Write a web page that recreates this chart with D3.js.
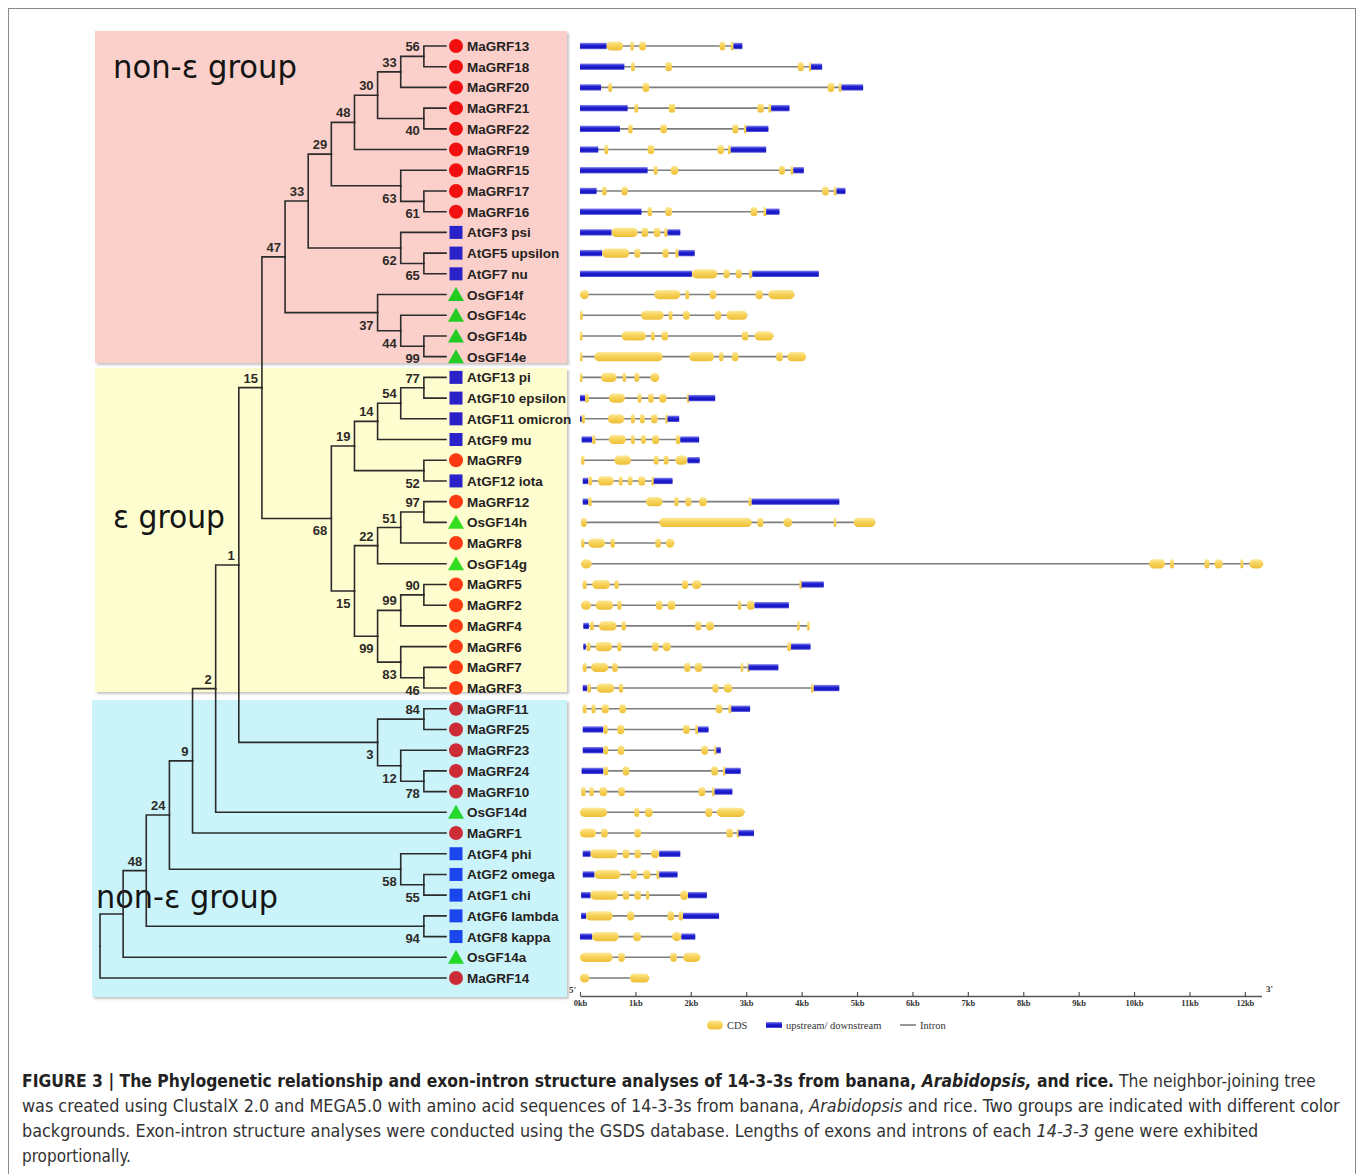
<!DOCTYPE html>
<html>
<head>
<meta charset="utf-8">
<script src="https://cdnjs.cloudflare.com/ajax/libs/d3/7.8.5/d3.min.js"></script>
<style>
body{margin:0;background:#fff}
svg{display:block}
text{white-space:pre}
</style>
</head>
<body>
<svg id="fig" width="1358" height="1174"></svg>
<script>
// leaves of the NJ tree, top to bottom
const leafNames=["MaGRF13","MaGRF18","MaGRF20","MaGRF21","MaGRF22","MaGRF19","MaGRF15","MaGRF17","MaGRF16",
  "AtGF3 psi","AtGF5 upsilon","AtGF7 nu","OsGF14f","OsGF14c","OsGF14b","OsGF14e",
  "AtGF13 pi","AtGF10 epsilon","AtGF11 omicron","AtGF9 mu","MaGRF9","AtGF12 iota","MaGRF12","OsGF14h","MaGRF8","OsGF14g",
  "MaGRF5","MaGRF2","MaGRF4","MaGRF6","MaGRF7","MaGRF3",
  "MaGRF11","MaGRF25","MaGRF23","MaGRF24","MaGRF10","OsGF14d","MaGRF1","AtGF4 phi","AtGF2 omega","AtGF1 chi",
  "AtGF6 lambda","AtGF8 kappa","OsGF14a","MaGRF14"];

// which background group each leaf sits in (0 pink, 1 yellow, 2 cyan)
const leafGroup=[0,0,0,0,0,0,0,0,0,0,0,0,0,0,0,0, 1,1,1,1,1,1,1,1,1,1,1,1,1,1,1,1, 2,2,2,2,2,2,2,2,2,2,2,2,2,2];

// internal nodes: id, bootstrap, upper child, lower child
const treeNodes=[
 ["n56","56","MaGRF13","MaGRF18"],
 ["n33a","33","n56","MaGRF20"],
 ["n40","40","MaGRF21","MaGRF22"],
 ["n30","30","n33a","n40"],
 ["n48a","48","n30","MaGRF19"],
 ["n61","61","MaGRF17","MaGRF16"],
 ["n63","63","MaGRF15","n61"],
 ["n29","29","n48a","n63"],
 ["n65","65","AtGF5 upsilon","AtGF7 nu"],
 ["n62","62","AtGF3 psi","n65"],
 ["n33b","33","n29","n62"],
 ["n99a","99","OsGF14b","OsGF14e"],
 ["n44","44","OsGF14c","n99a"],
 ["n37","37","OsGF14f","n44"],
 ["n47","47","n33b","n37"],
 ["n77","77","AtGF13 pi","AtGF10 epsilon"],
 ["n54","54","n77","AtGF11 omicron"],
 ["n14","14","n54","AtGF9 mu"],
 ["n52","52","MaGRF9","AtGF12 iota"],
 ["n19","19","n14","n52"],
 ["n97","97","MaGRF12","OsGF14h"],
 ["n51","51","n97","MaGRF8"],
 ["n22","22","n51","OsGF14g"],
 ["n90","90","MaGRF5","MaGRF2"],
 ["n99b","99","n90","MaGRF4"],
 ["n46","46","MaGRF7","MaGRF3"],
 ["n83","83","MaGRF6","n46"],
 ["n99c","99","n99b","n83"],
 ["n15b","15","n22","n99c"],
 ["n68","68","n19","n15b"],
 ["n15a","15","n47","n68"],
 ["n84","84","MaGRF11","MaGRF25"],
 ["n78","78","MaGRF24","MaGRF10"],
 ["n12","12","MaGRF23","n78"],
 ["n3","3","n84","n12"],
 ["n1","1","n15a","n3"],
 ["n2","2","n1","OsGF14d"],
 ["n9","9","n2","MaGRF1"],
 ["n55","55","AtGF2 omega","AtGF1 chi"],
 ["n58","58","AtGF4 phi","n55"],
 ["n24","24","n9","n58"],
 ["n94","94","AtGF6 lambda","AtGF8 kappa"],
 ["n48b","48","n24","n94"],
 ["n123","","n48b","OsGF14a"],
 ["root","","n123","MaGRF14"]
];

// gene structures in kb, same order as leafNames. u = up/downstream, c = CDS
const geneRows=[
 [["u",0,.48],["c",.48,.78],["c",.91,.97],["c",1.07,1.19],["c",2.52,2.62],["c",2.72,2.77],["u",2.77,2.93]],
 [["u",0,.80],["c",.92,.99],["c",1.54,1.66],["c",3.93,4.04],["c",4.13,4.17],["u",4.17,4.37]],
 [["u",0,.38],["c",.51,.58],["c",1.13,1.25],["c",4.47,4.59],["c",4.67,4.72],["u",4.72,5.11]],
 [["u",0,.86],["c",.98,1.05],["c",1.60,1.72],["c",3.20,3.32],["c",3.40,3.45],["u",3.45,3.78]],
 [["u",0,.72],["c",.87,.95],["c",1.45,1.57],["c",2.75,2.86],["c",2.96,3.0],["u",3.0,3.40]],
 [["u",0,.33],["c",.44,.51],["c",1.22,1.34],["c",2.48,2.60],["c",2.67,2.72],["u",2.72,3.36]],
 [["u",0,1.22],["c",1.33,1.40],["c",1.64,1.77],["c",3.59,3.70],["c",3.80,3.85],["u",3.85,4.04]],
 [["u",0,.30],["c",.40,.48],["c",.75,.86],["c",4.37,4.49],["c",4.58,4.63],["u",4.63,4.79]],
 [["u",0,1.11],["c",1.22,1.30],["c",1.54,1.66],["c",3.08,3.20],["c",3.31,3.36],["u",3.36,3.60]],
 [["u",0,.57],["c",.57,1.04],["c",1.11,1.23],["c",1.33,1.45],["c",1.52,1.58],["u",1.58,1.81]],
 [["u",0,.40],["c",.40,.89],["c",.98,1.09],["c",1.49,1.60],["c",1.72,1.78],["u",1.78,2.07]],
 [["u",0,2.02],["c",2.02,2.48],["c",2.59,2.70],["c",2.81,2.92],["c",3.05,3.11],["u",3.11,4.31]],
 [["c",0,.16],["c",1.34,1.81],["c",1.90,1.97],["c",2.34,2.46],["c",3.17,3.30],["c",3.40,3.87]],
 [["c",0,.05],["c",1.10,1.51],["c",1.60,1.67],["c",1.86,1.98],["c",2.43,2.55],["c",2.64,3.02]],
 [["c",0,.03],["c",.75,1.19],["c",1.28,1.35],["c",1.47,1.59],["c",2.92,3.04],["c",3.15,3.49]],
 [["c",0,.04],["c",.26,1.49],["c",1.97,2.42],["c",2.51,2.59],["c",2.74,2.86],["c",3.54,3.66],["c",3.74,4.08]],
 [["c",0,.03],["c",.38,.66],["c",.77,.83],["c",.98,1.07],["c",1.27,1.43]],
 [["u",0,.09],["c",.09,.16],["c",.52,.81],["c",1.04,1.11],["c",1.23,1.33],["c",1.43,1.56],["c",1.93,1.96],["u",1.96,2.44]],
 [["u",0,.03],["c",.03,.09],["c",.50,.80],["c",.92,.99],["c",1.08,1.17],["c",1.28,1.40],["c",1.54,1.58],["u",1.58,1.79]],
 [["u",.03,.22],["c",.22,.28],["c",.52,.83],["c",.92,.99],["c",1.10,1.19],["c",1.30,1.43],["c",1.73,1.81],["u",1.81,2.15]],
 [["c",.02,.08],["c",.62,.92],["c",1.33,1.42],["c",1.51,1.60],["c",1.72,1.94],["u",1.94,2.16]],
 [["u",.05,.15],["c",.15,.22],["c",.32,.61],["c",.70,.77],["c",.86,.95],["c",1.05,1.18],["c",1.29,1.33],["u",1.33,1.67]],
 [["u",.05,.15],["c",.15,.21],["c",1.19,1.49],["c",1.70,1.78],["c",1.90,2.01],["c",2.15,2.29],["c",3.04,3.10],["u",3.10,4.68]],
 [["c",.02,.12],["c",1.43,3.10],["c",3.20,3.31],["c",3.67,3.83],["c",4.58,4.61],["c",4.94,5.33]],
 [["c",.02,.08],["c",.15,.45],["c",.55,.63],["c",1.36,1.46],["c",1.55,1.70]],
 [["c",.02,.21],["c",10.27,10.56],["c",10.65,10.72],["c",11.27,11.36],["c",11.45,11.60],["c",11.92,11.97],["c",12.08,12.33]],
 [["c",.05,.12],["c",.22,.54],["c",.62,.70],["c",1.84,1.95],["c",2.02,2.19],["c",3.96,4.0],["u",4.0,4.40]],
 [["c",.02,.20],["c",.28,.60],["c",.67,.75],["c",1.37,1.49],["c",1.58,1.72],["c",2.85,2.91],["c",3.01,3.15],["u",3.15,3.77]],
 [["u",.06,.16],["c",.18,.25],["c",.34,.66],["c",.75,.83],["c",2.08,2.19],["c",2.27,2.42],["c",3.92,3.96],["c",4.10,4.13]],
 [["u",.06,.10],["c",.12,.19],["c",.28,.58],["c",.67,.75],["c",1.30,1.42],["c",1.49,1.64],["c",3.74,3.81],["u",3.81,4.16]],
 [["c",.05,.12],["c",.20,.51],["c",.58,.68],["c",1.88,1.99],["c",2.07,2.21],["c",2.90,2.94],["c",3.02,3.04],["u",3.04,3.58]],
 [["u",.05,.13],["c",.13,.20],["c",.30,.62],["c",.70,.78],["c",2.39,2.50],["c",2.59,2.75],["c",4.17,4.22],["u",4.22,4.68]],
 [["c",.05,.12],["c",.21,.28],["c",.39,.52],["c",.71,.83],["c",2.45,2.57],["c",2.68,2.73],["u",2.73,3.07]],
 [["u",.05,.42],["c",.42,.50],["c",.67,.80],["c",1.86,1.98],["c",2.08,2.13],["u",2.13,2.32]],
 [["u",.05,.42],["c",.42,.51],["c",.68,.80],["c",2.19,2.31],["c",2.42,2.46],["u",2.46,2.54]],
 [["u",.03,.42],["c",.42,.51],["c",.77,.89],["c",2.37,2.49],["c",2.58,2.62],["u",2.62,2.90]],
 [["c",.02,.10],["c",.17,.25],["c",.35,.49],["c",.69,.81],["c",2.14,2.26],["c",2.38,2.43],["u",2.43,2.75]],
 [["c",0,.49],["c",.98,1.07],["c",1.17,1.31],["c",2.26,2.39],["c",2.47,2.97]],
 [["c",0,.29],["c",.38,.50],["c",.98,1.10],["c",2.64,2.76],["c",2.83,2.86],["u",2.86,3.14]],
 [["u",.05,.19],["c",.19,.68],["c",.77,.89],["c",.98,1.10],["c",1.28,1.43],["u",1.43,1.81]],
 [["u",.05,.26],["c",.26,.73],["c",.91,1.03],["c",1.14,1.27],["c",1.38,1.43],["u",1.43,1.76]],
 [["u",.02,.19],["c",.19,.68],["c",.77,.89],["c",.98,1.10],["c",1.19,1.25],["c",1.81,1.95],["u",1.95,2.29]],
 [["u",.02,.11],["c",.11,.59],["c",.85,.98],["c",1.58,1.70],["c",1.78,1.86],["u",1.86,2.51]],
 [["u",0,.22],["c",.22,.70],["c",.96,1.10],["c",1.66,1.83],["u",1.83,2.08]],
 [["c",0,.59],["c",.69,.81],["c",1.63,1.75],["c",1.86,2.17]],
 [["c",0,.17],["c",.90,1.25]]
];

const kbTicks=[0,1,2,3,4,5,6,7,8,9,10,11,12];
const groupLabels=[["non-\u03b5 group",113,78,184],["\u03b5 group",113,528,112],["non-\u03b5 group",96,908,182]];
const legendItems=[["c","CDS"],["u","upstream/ downstream"],["i","Intron"]];

const captionLines=[
 [["FIGURE 3 | The Phylogenetic relationship and exon-intron structure analyses of 14-3-3s from banana, ","b"],["Arabidopsis,","bi"],[" and rice.","b"],[" The neighbor-joining tree","r"]],
 [["was created using ClustalX 2.0 and MEGA5.0 with amino acid sequences of 14-3-3s from banana, ","r"],["Arabidopsis","i"],[" and rice. Two groups are indicated with different color","r"]],
 [["backgrounds. Exon-intron structure analyses were conducted using the GSDS database. Lengths of exons and introns of each ","r"],["14-3-3","i"],[" gene were exhibited","r"]],
 [["proportionally.","r"]]
];
const captionRight=[1317,1340,1259,131];

var svg=d3.select("#fig");
var defs=svg.append("defs");

// frame
svg.append("rect").attr("x",8.5).attr("y",8.5).attr("width",1347).attr("height",1200)
  .attr("fill","#fff").attr("stroke","#8a8a8a").attr("stroke-width",1);

// gradients for exons
var gC=defs.append("linearGradient").attr("id","gcds").attr("x1",0).attr("y1",0).attr("x2",0).attr("y2",1);
gC.append("stop").attr("offset","0%").attr("stop-color","#fde999");
gC.append("stop").attr("offset","45%").attr("stop-color","#f7d35a");
gC.append("stop").attr("offset","100%").attr("stop-color","#eebf38");
var gU=defs.append("linearGradient").attr("id","gutr").attr("x1",0).attr("y1",0).attr("x2",0).attr("y2",1);
gU.append("stop").attr("offset","0%").attr("stop-color","#8c8cf2");
gU.append("stop").attr("offset","35%").attr("stop-color","#2323d2");
gU.append("stop").attr("offset","75%").attr("stop-color","#1414c0");
gU.append("stop").attr("offset","100%").attr("stop-color","#6a6ae6");
var sh=defs.append("filter").attr("id","shadow").attr("x","-2%").attr("y","-2%").attr("width","105%").attr("height","105%");
sh.append("feDropShadow").attr("dx",2).attr("dy",2).attr("stdDeviation",1.2).attr("flood-color","#999").attr("flood-opacity",0.55);

// group backgrounds
const bgBoxes=[[95,31,472,332,"#fbd0cb"],[95,368,472,324,"#fefdcf"],[92,700,475,297,"#caf4fa"]];
svg.append("g").selectAll("rect").data(bgBoxes).enter().append("rect")
  .attr("x",d=>d[0]).attr("y",d=>d[1]).attr("width",d=>d[2]).attr("height",d=>d[3])
  .attr("fill",d=>d[4]).attr("filter","url(#shadow)");

svg.append("g").selectAll("text").data(groupLabels).enter().append("text")
  .attr("x",d=>d[1]).attr("y",d=>d[2]).attr("textLength",d=>d[3]).attr("lengthAdjust","spacingAndGlyphs")
  .attr("font-family","DejaVu Sans, Verdana, sans-serif").attr("font-size",32).attr("fill","#141414")
  .text(d=>d[0]);

// ---- tree ----
var byId=new Map(treeNodes.map(r=>[r[0],r]));
function build(id){
  var r=byId.get(id);
  if(!r) return {name:id};
  return {name:id,boot:r[1],children:[build(r[2]),build(r[3])]};
}
var root=d3.hierarchy(build("root"));
var yLeaf=d3.scaleLinear().domain([0,leafNames.length-1]).range([46,978]);
var xLevel=d3.scaleLinear().domain([0,15]).range([447,100]);
var TIP=446;
root.eachAfter(function(n){
  n.px=xLevel(n.height);
  n.py=n.children? d3.mean(n.children,c=>c.py) : yLeaf(leafNames.indexOf(n.data.name));
});

var treeG=svg.append("g").attr("class","tree");
treeG.selectAll("path").data(root.links()).enter().append("path")
  .attr("d",function(l){
    var x2=l.target.children? l.target.px : TIP;
    return "M"+l.source.px+","+l.source.py+"V"+l.target.py+"H"+x2;
  })
  .attr("fill","none").attr("stroke","#2b2b2b").attr("stroke-width",1.6).attr("stroke-linecap","square");

var inner=root.descendants().filter(n=>n.children && n.data.boot);
treeG.selectAll("text.boot").data(inner).enter().append("text").attr("class","boot")
  .attr("x",n=>n.px-4)
  .attr("y",n=>n.parent.children[0]===n? n.py-5 : n.py+17)
  .attr("text-anchor","end").attr("font-family","Liberation Sans, Arial, sans-serif")
  .attr("font-weight","bold").attr("font-size",13).attr("fill","#2e2a26")
  .text(n=>n.data.boot);

// leaf markers and names
const circleFill=["#f20f0f","#ff3a12","#cc2c36"];
const squareFill=["#2a22c8","#2a22c8","#1a46ec"];
const triFill=["#22cc22","#33dd1f","#22d828"];
var leafG=svg.append("g").attr("class","leaves").selectAll("g").data(leafNames).enter().append("g")
  .attr("transform",(d,i)=>"translate(456,"+yLeaf(i)+")");
leafG.each(function(d,i){
  var g=d3.select(this), grp=leafGroup[i];
  if(d.indexOf("Ma")===0) g.append("circle").attr("r",7).attr("fill",circleFill[grp]);
  else if(d.indexOf("At")===0) g.append("rect").attr("x",-6.5).attr("y",-6.5).attr("width",13).attr("height",13).attr("fill",squareFill[grp]);
  else g.append("path").attr("d","M0,-7.5L8,6.5L-8,6.5Z").attr("fill",triFill[grp]);
});
leafG.append("text").attr("x",11).attr("y",5)
  .attr("font-family","Liberation Sans, Arial, sans-serif").attr("font-weight","bold").attr("font-size",13.5)
  .attr("fill","#252220").text(d=>d);

// ---- gene structures ----
var xKb=d3.scaleLinear().domain([0,12.3]).range([580,1261.5]);
var geneG=svg.append("g").attr("class","genes").selectAll("g").data(geneRows).enter().append("g")
  .attr("transform",(d,i)=>"translate(0,"+yLeaf(i)+")");
geneG.append("line")
  .attr("x1",d=>xKb(d3.min(d,s=>s[1]))).attr("x2",d=>xKb(d3.max(d,s=>s[2])))
  .attr("stroke","#7d7d7d").attr("stroke-width",1.6);
geneG.selectAll("rect").data(d=>d).enter().append("rect")
  .attr("x",s=>xKb(s[1])).attr("width",s=>Math.max(xKb(s[2])-xKb(s[1]),2.5))
  .attr("y",s=>s[0]==="c"? -4.6 : -3.2).attr("height",s=>s[0]==="c"? 9.2 : 6.4)
  .attr("rx",s=>s[0]==="c"? Math.min(4.5,(xKb(s[2])-xKb(s[1]))/2) : 0)
  .attr("fill",s=>s[0]==="c"? "url(#gcds)" : "url(#gutr)");

// axis
var axisG=svg.append("g").attr("transform","translate(0,996)")
  .call(d3.axisBottom(xKb).tickValues(kbTicks).tickFormat(d=>d+"kb").tickSizeInner(-4).tickSizeOuter(0).tickPadding(4));
axisG.select(".domain").attr("stroke","#555").attr("stroke-width",1.4);
axisG.selectAll(".tick line").attr("stroke","#555").attr("stroke-width",1.2);
axisG.selectAll(".tick text").attr("font-family","Liberation Serif, Times New Roman, serif")
  .attr("font-size",8.5).attr("font-weight","bold").attr("fill","#333");
svg.append("text").attr("x",569).attr("y",993).attr("font-family","Liberation Serif, serif").attr("font-size",9)
  .attr("font-weight","bold").attr("fill","#333").text("5'");
svg.append("text").attr("x",1266).attr("y",992).attr("font-family","Liberation Serif, serif").attr("font-size",9)
  .attr("font-weight","bold").attr("fill","#333").text("3'");

// legend
var legX=d3.scalePoint().domain(legendItems.map(d=>d[1])).range([707,900]);
var legG=svg.append("g").selectAll("g").data(legendItems).enter().append("g")
  .attr("transform",d=>"translate("+[707,766,900][legendItems.indexOf(d)]+",1025)");
legG.each(function(d){
  var g=d3.select(this);
  if(d[0]==="c") g.append("rect").attr("x",0).attr("y",-4.5).attr("width",16).attr("height",9).attr("rx",4.5).attr("fill","url(#gcds)");
  else if(d[0]==="u") g.append("rect").attr("x",0).attr("y",-3).attr("width",16).attr("height",6).attr("fill","url(#gutr)");
  else g.append("line").attr("x1",0).attr("x2",16).attr("stroke","#7d7d7d").attr("stroke-width",1.6);
});
legG.append("text").attr("x",20).attr("y",4).attr("font-family","Liberation Serif, Times New Roman, serif")
  .attr("font-size",10.5).attr("fill","#333").text(d=>d[1]);

// ---- caption ----
var capG=svg.append("g").attr("class","caption");
captionLines.forEach(function(parts,i){
  var g=capG.append("g");
  var t=g.append("text").attr("x",0).attr("y",0)
    .attr("font-family","Liberation Sans Narrow, DejaVu Sans Condensed, Arial Narrow, sans-serif")
    .attr("font-size",17.5).attr("fill","#333");
  parts.forEach(function(p){
    var ts=t.append("tspan").text(p[0]);
    if(p[1].indexOf("b")>=0) ts.attr("font-weight","bold").attr("fill","#222");
    if(p[1].indexOf("i")>=0) ts.attr("font-style","italic");
  });
  var w=t.node().getComputedTextLength();
  var sx=(captionRight[i]-22)/w;
  g.attr("transform","translate(22,"+(1087+i*25)+") scale("+sx+",1)");
});
</script>
</body>
</html>
